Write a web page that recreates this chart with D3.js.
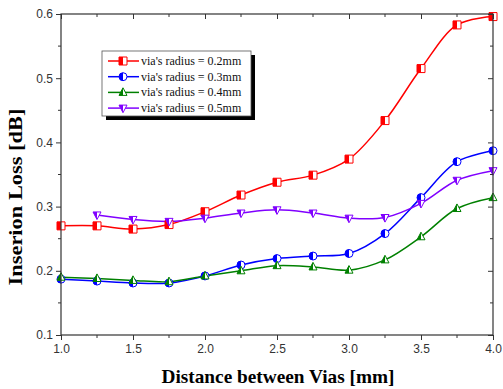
<!DOCTYPE html>
<html>
<meta charset="utf-8">
<script src="https://d3js.org/d3.v7.min.js"></script>
<style>
  body { margin: 0; background: #fff; }
</style>
<body>
<div id="my_dataviz"></div>
<script>

// data
var distances = [1.0, 1.25, 1.5, 1.75, 2.0, 2.25, 2.5, 2.75, 3.0, 3.25, 3.5, 3.75, 4.0];
var loss02 = [0.270, 0.270, 0.265, 0.272, 0.292, 0.318, 0.338, 0.349, 0.374, 0.434, 0.515, 0.583, 0.596];
var loss03 = [0.187, 0.184, 0.181, 0.181, 0.192, 0.209, 0.219, 0.223, 0.227, 0.258, 0.314, 0.370, 0.387];
var loss04 = [0.190, 0.188, 0.185, 0.183, 0.192, 0.200, 0.208, 0.206, 0.201, 0.217, 0.253, 0.297, 0.314];
var loss05 = [null, 0.287, 0.280, 0.277, 0.282, 0.290, 0.295, 0.290, 0.282, 0.283, 0.305, 0.341, 0.356];
var seriesNames = ["via's radius = 0.2mm", "via's radius = 0.3mm", "via's radius = 0.4mm", "via's radius = 0.5mm"];
var xTicks = [1.0, 1.5, 2.0, 2.5, 3.0, 3.5, 4.0];
var yTicks = [0.1, 0.2, 0.3, 0.4, 0.5, 0.6];

var series = [
  {name: seriesNames[0], values: loss02, color: "#ff0000", shape: "square"},
  {name: seriesNames[1], values: loss03, color: "#0000ff", shape: "circle"},
  {name: seriesNames[2], values: loss04, color: "#008000", shape: "up"},
  {name: seriesNames[3], values: loss05, color: "#8000ff", shape: "down"}
];

var W = 503, H = 389;
var margin = {top: 14, right: 10, bottom: 54, left: 61};
var width = W - margin.left - margin.right,
    height = H - margin.top - margin.bottom;

var svg = d3.select("#my_dataviz")
  .append("svg")
    .attr("width", W)
    .attr("height", H);

var g = svg.append("g")
    .attr("transform", "translate(" + margin.left + "," + margin.top + ")");

var x = d3.scaleLinear().domain([1, 4]).range([0, width]);
var y = d3.scaleLinear().domain([0.1, 0.6]).range([height, 0]);

var minorX = d3.range(1.25, 4, 0.5);
var minorY = d3.range(0.15, 0.6, 0.1);

// clip so the curves don't go past the frame
g.append("clipPath").attr("id", "clip")
  .append("rect").attr("width", width).attr("height", height);

var line = d3.line()
    .defined(function(d) { return d[1] != null; })
    .x(function(d) { return x(d[0]); })
    .y(function(d) { return y(d[1]); })
    .curve(d3.curveCatmullRom.alpha(0.5));

// marker shapes, half filled like origin's
function markerPath(shape, s) {
  if (shape == "square") return "M" + (-s) + "," + (-s) + "h" + 2*s + "v" + 2*s + "h" + (-2*s) + "Z";
  if (shape == "circle") return d3.arc()({innerRadius: 0, outerRadius: s, startAngle: 0, endAngle: 2*Math.PI});
  if (shape == "up") return "M0," + (-s*1.15) + "L" + (s) + "," + (s*0.75) + "L" + (-s) + "," + (s*0.75) + "Z";
  return "M0," + (s*1.15) + "L" + (s) + "," + (-s*0.75) + "L" + (-s) + "," + (-s*0.75) + "Z";
}
function halfPath(shape, s) {
  if (shape == "square") return "M" + (-s) + "," + (-s) + "h" + s + "v" + 2*s + "h" + (-s) + "Z";
  if (shape == "circle") return d3.arc()({innerRadius: 0, outerRadius: s, startAngle: Math.PI, endAngle: 2*Math.PI});
  if (shape == "up") return "M0," + (-s*1.15) + "L0," + (s*0.75) + "L" + (-s) + "," + (s*0.75) + "Z";
  return "M0," + (s*1.15) + "L0," + (-s*0.75) + "L" + (-s) + "," + (-s*0.75) + "Z";
}
function drawMarker(sel, shape, color, s) {
  sel.append("path").attr("d", markerPath(shape, s)).attr("fill", "#fff").attr("stroke", color).attr("stroke-width", 1);
  sel.append("path").attr("d", halfPath(shape, s)).attr("fill", color);
}

var plot = g.append("g").attr("clip-path", "url(#clip)");

series.forEach(function(s) {
  var pts = distances.map(function(d, i) { return [d, s.values[i]]; })
      .filter(function(p) { return p[1] != null; });
  plot.append("path")
    .datum(pts)
    .attr("fill", "none")
    .attr("stroke", s.color)
    .attr("stroke-width", 1.5)
    .attr("d", line);
});
series.forEach(function(s) {
  distances.forEach(function(d, i) {
    if (s.values[i] == null) return;
    var m = g.append("g").attr("transform", "translate(" + x(d) + "," + y(s.values[i]) + ")");
    drawMarker(m, s.shape, s.color, 4);
  });
});

// frame and ticks
var axisColor = "#333";
g.append("rect").attr("width", width).attr("height", height)
  .attr("fill", "none").attr("stroke", axisColor).attr("stroke-width", 1.2);

var tickFont = "'Liberation Sans', Arial, sans-serif";

var xAxis = g.append("g").attr("transform", "translate(0," + height + ")")
  .call(d3.axisBottom(x).tickValues(xTicks).tickFormat(d3.format(".1f")).tickSize(5).tickPadding(4));
xAxis.select(".domain").remove();
xAxis.selectAll("line").attr("stroke", axisColor);
xAxis.selectAll("text").attr("font-family", tickFont).attr("font-size", "12px").attr("fill", "#333");
xAxis.selectAll(".minor").data(minorX).enter().append("line")
  .attr("x1", function(d) { return x(d); }).attr("x2", function(d) { return x(d); })
  .attr("y1", 0).attr("y2", 3).attr("stroke", axisColor);

var yAxis = g.append("g")
  .call(d3.axisLeft(y).tickValues(yTicks).tickFormat(d3.format(".1f")).tickSize(5).tickPadding(3));
yAxis.select(".domain").remove();
yAxis.selectAll("line").attr("stroke", axisColor);
yAxis.selectAll("text").attr("font-family", tickFont).attr("font-size", "12px").attr("fill", "#333");
yAxis.selectAll(".minor").data(minorY).enter().append("line")
  .attr("y1", function(d) { return y(d); }).attr("y2", function(d) { return y(d); })
  .attr("x1", 0).attr("x2", -3).attr("stroke", axisColor);

// top and right: ticks point inward, no labels
var topAxis = g.append("g")
  .call(d3.axisBottom(x).tickValues(xTicks).tickFormat("").tickSize(5));
topAxis.select(".domain").remove();
topAxis.selectAll("line").attr("stroke", axisColor);
topAxis.selectAll(".minor").data(minorX).enter().append("line")
  .attr("x1", function(d) { return x(d); }).attr("x2", function(d) { return x(d); })
  .attr("y1", 0).attr("y2", 3).attr("stroke", axisColor);

var rightAxis = g.append("g").attr("transform", "translate(" + width + ",0)")
  .call(d3.axisLeft(y).tickValues(yTicks).tickFormat("").tickSize(5));
rightAxis.select(".domain").remove();
rightAxis.selectAll("line").attr("stroke", axisColor);
rightAxis.selectAll(".minor").data(minorY).enter().append("line")
  .attr("y1", function(d) { return y(d); }).attr("y2", function(d) { return y(d); })
  .attr("x1", 0).attr("x2", -3).attr("stroke", axisColor);

// axis titles
var serif = "'Liberation Serif', 'Times New Roman', serif";
svg.append("text")
  .attr("x", 278).attr("y", 383)
  .attr("text-anchor", "middle")
  .attr("font-family", serif).attr("font-weight", "bold").attr("font-size", "19px")
  .attr("textLength", 233).attr("lengthAdjust", "spacingAndGlyphs")
  .text("Distance between Vias [mm]");

svg.append("text")
  .attr("transform", "translate(22,197) rotate(-90)")
  .attr("text-anchor", "middle")
  .attr("font-family", serif).attr("font-weight", "bold").attr("font-size", "19px")
  .attr("textLength", 177).attr("lengthAdjust", "spacingAndGlyphs")
  .text("Inserion Loss [dB]");

// legend
var lx = 102, ly = 51, lw = 149, lh = 65;
svg.append("rect").attr("x", lx + 4).attr("y", ly + 4).attr("width", lw).attr("height", lh).attr("fill", "#000");
svg.append("rect").attr("x", lx).attr("y", ly).attr("width", lw).attr("height", lh)
  .attr("fill", "#fff").attr("stroke", "#555").attr("stroke-width", 0.8);

var leg = svg.append("g").selectAll("g")
  .data(series).enter().append("g")
  .attr("transform", function(d, i) { return "translate(" + lx + "," + (ly + 10 + i * 15.7) + ")"; });
leg.append("line").attr("x1", 6).attr("x2", 37).attr("y1", 0).attr("y2", 0)
  .attr("stroke", function(d) { return d.color; }).attr("stroke-width", 1.5);
leg.each(function(d) {
  var m = d3.select(this).append("g").attr("transform", "translate(21,0)");
  drawMarker(m, d.shape, d.color, 4);
});
leg.append("text").attr("x", 39).attr("y", 4)
  .attr("font-family", serif).attr("font-size", "12px").attr("fill", "#111")
  .text(function(d) { return d.name; });

</script>
</body>
</html>
